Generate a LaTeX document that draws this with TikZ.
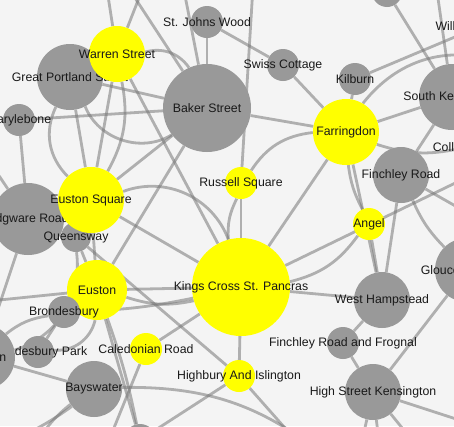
\documentclass[tikz,border=0pt]{standalone}
\usepackage{fontspec}
\setmainfont{Liberation Sans}
\usepackage{xcolor}
\usepackage{tikz}
\usetikzlibrary{backgrounds}
\definecolor{stationgray}{HTML}{999999}
\definecolor{stationyellow}{HTML}{FFFF00}
\definecolor{edgegray}{HTML}{777777}
\definecolor{bggray}{HTML}{F4F4F4}
\newcommand{\stationfont}{\fontsize{12.3}{14}\selectfont}

\begin{document}
\begin{tikzpicture}[
    x=1pt, y=-1pt,
    gnode/.style={circle, fill=stationgray, inner sep=0pt, minimum size=#1},
    ynode/.style={circle, fill=stationyellow, inner sep=0pt, minimum size=#1},
    lbl/.style={inner sep=0pt, text=black!90, font=\stationfont},
    link/.style={draw=edgegray, line width=2.8pt, draw opacity=0.55}
]
\useasboundingbox (0,0) rectangle (454,426);

% stations, in drawing order
\node[gnode=30] (topnode) at (387,-8) {};
\node[gnode=32] (stjohns) at (207,22) {};
\node[lbl] at (stjohns) {St. Johns Wood};
\node[gnode=32] (swiss) at (283,65) {};
\node[lbl] at (swiss) {Swiss Cottage};
\node[gnode=32] (kilburn) at (355,79) {};
\node[lbl] at (kilburn) {Kilburn};
\node[gnode=40] (willesden) at (481,26) {};
\node[lbl] at (willesden) {Willesden Green};
\node[gnode=66] (portland) at (70,77) {};
\node[lbl] at (portland) {Great Portland Street};
\node[ynode=56] (warren) at (117,54) {};
\node[lbl] at (warren) {Warren Street};
\node[gnode=32] (marylebone) at (19,120) {};
\node[lbl] at (marylebone) {Marylebone};
\node[gnode=88] (baker) at (207,108) {};
\node[lbl] at (baker) {Baker Street};
\node[gnode=66] (southken) at (452,97) {};
\node[lbl] at (southken) {South Kensington};
\node[ynode=66] (farringdon) at (346,132) {};
\node[lbl] at (farringdon) {Farringdon};
\node[gnode=24] (colliers) at (471,147) {};
\node[lbl] at (colliers) {Colliers Wood};
\node[gnode=56] (finchley) at (401,175) {};
\node[lbl] at (finchley) {Finchley Road};
\node[ynode=32] (russell) at (241,183) {};
\node[lbl] at (russell) {Russell Square};
\node[gnode=72] (edgware) at (28,219) {};
\node[lbl] at (edgware) {Edgware Road};
\node[gnode=30] (queensway) at (76,237) {};
\node[ynode=66] (eustonsq) at (91,200) {};
\node[lbl] at (eustonsq) {Euston Square};
\node[lbl] at (queensway) {Queensway};
\node[ynode=32] (angel) at (369,224) {};
\node[lbl] at (angel) {Angel};
\node[gnode=64] (gloucester) at (467,270) {};
\node[lbl] at (gloucester) {Gloucester Road};
\node[ynode=98] (kings) at (241,287) {};
\node[lbl] at (kings) {Kings Cross St. Pancras};
\node[gnode=56] (westhamp) at (382,300) {};
\node[lbl] at (westhamp) {West Hampstead};
\node[ynode=60] (euston) at (97,290) {};
\node[lbl] at (euston) {Euston};
\node[gnode=32] (brondesbury) at (64,312) {};
\node[lbl] at (brondesbury) {Brondesbury};
\node[gnode=32] (brondpark) at (38,352) {};
\node[lbl] at (brondpark) {Brondesbury Park};
\node[gnode=66] (barbican) at (-18,357) {};
\node[lbl] at (barbican) {Barbican};
\node[ynode=32] (caledonian) at (146,349) {};
\node[lbl] at (caledonian) {Caledonian Road};
\node[gnode=32] (frognal) at (343,343) {};
\node[lbl] at (frognal) {Finchley Road and Frognal};
\node[ynode=32] (highbury) at (239,376) {};
\node[lbl] at (highbury) {Highbury And Islington};
\node[gnode=56] (bayswater) at (94,389) {};
\node[lbl] at (bayswater) {Bayswater};
\node[gnode=56] (highst) at (373,392) {};
\node[lbl] at (highst) {High Street Kensington};
\node[gnode=32] (bottomnode) at (140,440) {};

% loose ends of links leaving the view
\coordinate (offwa) at (104,-30);
\coordinate (offwb) at (150,-30);
\coordinate (offba) at (180,-30);
\coordinate (offbb) at (120,-25);
\coordinate (offru) at (254,-30);
\coordinate (offfa) at (500,62);
\coordinate (offsk) at (434,-30);
\coordinate (offfi) at (480,220);
\coordinate (offki) at (480,171);
\coordinate (offhsa) at (490,430);
\coordinate (offhsb) at (360,450);
\coordinate (offhsc) at (380,450);
\coordinate (offhsd) at (420,450);
\coordinate (offhi) at (300,445);
\coordinate (offca) at (105,450);
\coordinate (offeu) at (-30,303);
\coordinate (offbwa) at (-20,450);
\coordinate (offbwb) at (30,460);
\coordinate (offbwc) at (330,460);
\coordinate (offed) at (-25,140);

\begin{scope}[on background layer]
\fill[bggray] (0,0) rectangle (454,426);
\draw[link] (warren) -- (eustonsq);
\draw[link] (warren) -- (kings);
\draw[link] (warren) to[bend left=35] (baker);
\draw[link] (warren) to[bend left=20] (eustonsq);
\draw[link] (warren) -- (offwa);
\draw[link] (warren) -- (offwb);
\draw[link] (portland) -- (baker);
\draw[link] (portland) to[bend right=50] (baker);
\draw[link] (portland) -- (eustonsq);
\draw[link] (portland) to[bend right=35] (eustonsq);
\draw[link] (marylebone) -- (baker);
\draw[link] (marylebone) -- (edgware);
\draw[link] (baker) -- (stjohns);
\draw[link] (stjohns) -- (swiss);
\draw[link] (baker) -- (offba);
\draw[link] (baker) -- (offbb);
\draw[link] (baker) -- (euston);
\draw[link] (baker) -- (eustonsq);
\draw[link] (baker) -- (farringdon);
\draw[link] (offru) -- (russell);
\draw[link] (russell) -- (kings);
\draw[link] (russell) to[bend right=15] (kings);
\draw[link] (russell) to[bend left=25] (farringdon);
\draw[link] (farringdon) -- (kings);
\draw[link] (farringdon) -- (swiss);
\draw[link] (farringdon) -- (kilburn);
\draw[link] (farringdon) -- (southken);
\draw[link] (farringdon) to[bend right=15] (colliers);
\draw[link] (farringdon) to[bend left=35] (offfa);
\draw[link] (farringdon) to[bend right=10] (angel);
\draw[link] (farringdon) -- (westhamp);
\draw[link] (kilburn) -- (willesden);
\draw[link] (topnode) -- (southken);
\draw[link] (offsk) -- (southken);
\draw[link] (southken) -- (finchley);
\draw[link] (finchley) -- (westhamp);
\draw[link] (finchley) to[bend right=10] (gloucester);
\draw[link] (finchley) -- (offfi);
\draw[link] (kings) -- (offki);
\draw[link] (kings) to[bend right=20] (angel);
\draw[link] (kings) -- (westhamp);
\draw[link] (kings) -- (highbury);
\draw[link] (kings) -- (caledonian);
\draw[link] (kings) -- (euston);
\draw[link] (euston) to[bend right=15] (kings);
\draw[link] (brondesbury) to[bend right=5] (kings);
\draw[link] (eustonsq) -- (kings);
\draw[link] (eustonsq) to[bend left=45] (kings);
\draw[link] (angel) -- (westhamp);
\draw[link] (westhamp) -- (frognal);
\draw[link] (frognal) -- (highst);
\draw[link] (highst) -- (gloucester);
\foreach \c in {offhsa,offhsb,offhsc,offhsd}
    \draw[link] (highst) -- (\c);
\draw[link] (highbury) -- (offhi);
\draw[link] (highbury) -- (bottomnode);
\draw[link] (queensway) -- (highbury);
\draw[link] (caledonian) -- (offca);
\draw[link] (euston) -- (bottomnode);
\draw[link] (euston) to[bend left=4] (bottomnode);
\draw[link] (euston) -- (eustonsq);
\draw[link] (queensway) -- (euston);
\draw[link] (euston) -- (offeu);
\draw[link] (brondesbury) -- (brondpark);
\draw[link] (brondpark) to[bend right=40] (euston);
\draw[link] (barbican) to[bend left=15] (brondesbury);
\draw[link] (barbican) -- (bayswater);
\draw[link] (edgware) -- (barbican);
\draw[link] (queensway) to[bend left=40] (barbican);
\draw[link] (bayswater) to[bend left=10] (offbwa);
\draw[link] (bayswater) to[bend right=15] (offbwb);
\draw[link] (bayswater) to[bend left=20] (offbwc);
\draw[link] (edgware) -- (offed);
\end{scope}
\end{tikzpicture}
\end{document}
